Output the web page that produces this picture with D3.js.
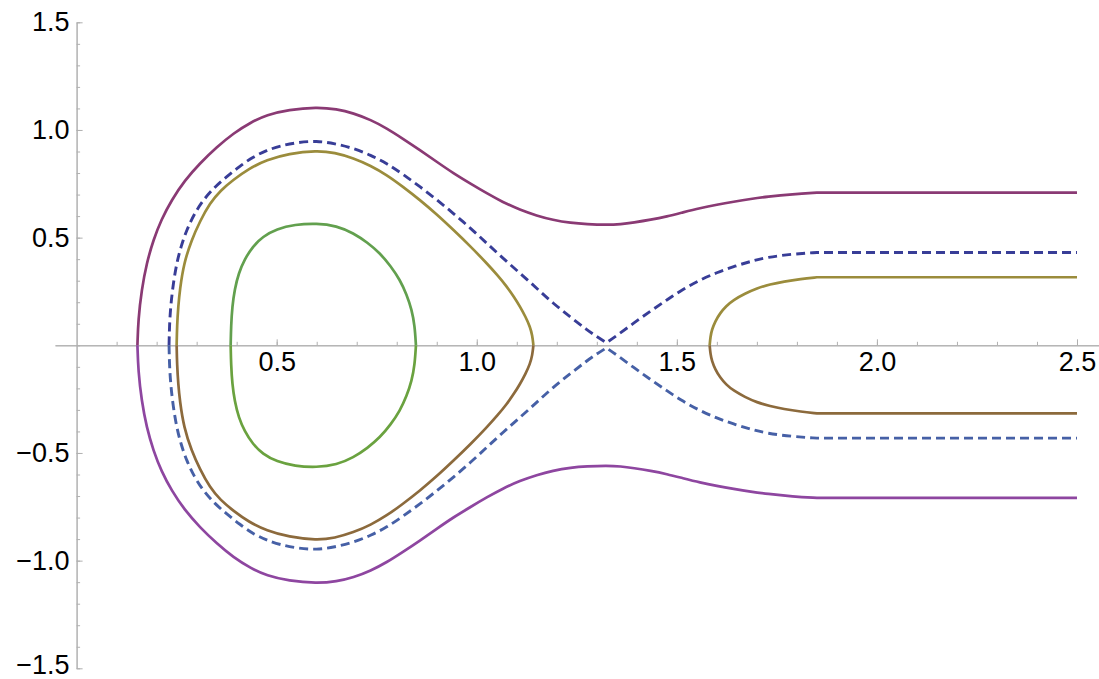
<!DOCTYPE html>
<html>
<head>
<meta charset="utf-8">
<script src="https://cdn.jsdelivr.net/npm/d3@7"></script>
<style>
  body { margin: 0; background: #fff; }
  .axis path, .axis line { stroke: #b0b0b0; }
  .axis text { font-family: "Liberation Sans", Arial, Helvetica, sans-serif; font-size: 27px; fill: #000; }
</style>
</head>
<body>
<div id="chart"></div>
<script>
// upper halves of each curve (x, y); the lower half is the mirror image
var outerCurve = [[0.152,0],[0.154,0.118],[0.1625,0.258],[0.175,0.381],[0.192,0.49],[0.212,0.585],[0.2375,0.675],
    [0.27,0.765],[0.308,0.845],[0.35,0.92],[0.392,0.985],[0.435,1.035],[0.475,1.07],[0.53,1.094],[0.6,1.106],
    [0.65,1.097],[0.692,1.078],[0.735,1.047],[0.775,1.008],[0.815,0.96],[0.858,0.907],[0.9,0.852],[0.9415,0.799],
    [0.985,0.75],[1.025,0.706],[1.065,0.665],[1.108,0.629],[1.15,0.602],[1.19,0.582],[1.235,0.568],[1.275,0.562],
    [1.325,0.559],[1.36,0.562],[1.392,0.57],[1.435,0.583],[1.475,0.598],[1.515,0.617],[1.558,0.637],[1.6,0.653],
    [1.642,0.667],[1.685,0.68],[1.725,0.69],[1.79,0.702],[1.85,0.709]];
var sepCurve = [[0.231,0],[0.232,0.09],[0.235,0.18],[0.241,0.28],[0.25,0.381],[0.261,0.46],[0.275,0.536],
    [0.294,0.61],[0.3165,0.675],[0.345,0.735],[0.375,0.783],[0.408,0.832],[0.4415,0.876],[0.475,0.905],[0.508,0.926],
    [0.55,0.942],[0.6,0.95],[0.645,0.937],[0.692,0.915],[0.735,0.883],[0.775,0.845],[0.815,0.795],[0.858,0.737],
    [0.9,0.676],[0.9415,0.613],[0.985,0.543],[1.025,0.474],[1.065,0.405],[1.108,0.335],[1.15,0.265],[1.19,0.196],
    [1.235,0.13],[1.275,0.072],[1.3,0.04],[1.324,0.012],[1.324,0.012],[1.35,0.045],[1.392,0.103],[1.435,0.16],
    [1.475,0.211],[1.515,0.26],[1.558,0.304],[1.6,0.338],[1.642,0.366],[1.685,0.39],[1.725,0.409],[1.79,0.424],
    [1.85,0.431]];
var olLeftCurve = [[0.25,0],[0.251,0.09],[0.254,0.18],[0.258,0.258],[0.268,0.381],[0.2875,0.49],[0.308,0.575],
    [0.333,0.66],[0.36,0.72],[0.3915,0.768],[0.43,0.82],[0.475,0.861],[0.53,0.89],[0.6,0.905],[0.645,0.895],
    [0.692,0.869],[0.735,0.834],[0.775,0.791],[0.815,0.737],[0.858,0.675],[0.9,0.608],[0.9415,0.536],[0.985,0.458],
    [1.025,0.381],[1.052,0.325],[1.075,0.273],[1.093,0.225],[1.108,0.18],[1.122,0.132],[1.133,0.087],[1.139,0.045],
    [1.1415,0]];
var olRightCurve = [[1.582,0],[1.584,0.04],[1.5875,0.072],[1.596,0.112],[1.608,0.149],[1.623,0.182],[1.642,0.211],
    [1.67,0.24],[1.7,0.265],[1.733,0.283],[1.767,0.296],[1.81,0.308],[1.85,0.316]];
var greenCurve = [[0.385,0],[0.386,0.09],[0.389,0.18],[0.395,0.26],[0.405,0.335],[0.42,0.4],[0.44,0.458],
    [0.465,0.505],[0.5,0.54],[0.545,0.561],[0.6,0.567],[0.65,0.555],[0.692,0.521],[0.727,0.477],[0.758,0.428],
    [0.785,0.368],[0.808,0.304],[0.825,0.235],[0.8375,0.165],[0.845,0.09],[0.848,0]];

// flat parts running out to x = 2.5
var tailEnd = 2.5;

var xMajor = [0.5, 1.0, 1.5, 2.0, 2.5];
var yMajor = [-1.5, -1.0, -0.5, 0.5, 1.0, 1.5];

var curves = [
    {pts: greenCurve,   tail: false, up: "#62a04e", down: "#6aa23f", dash: null, w: 2.7},
    {pts: olLeftCurve,  tail: false, up: "#9b8c3c", down: "#8c6a3c", dash: null, w: 2.7},
    {pts: olRightCurve, tail: true,  up: "#9b8c3c", down: "#8c6a3c", dash: null, w: 2.7},
    {pts: sepCurve,     tail: true,  up: "#383d97", down: "#4660a6", dash: "9,5", w: 2.9},
    {pts: outerCurve,   tail: true,  up: "#8a3a74", down: "#8e46a0", dash: null, w: 2.7}
];

var width = 1099, height = 679;

var svg = d3.select("#chart").append("svg")
    .attr("width", width)
    .attr("height", height);

var x = d3.scaleLinear().domain([-0.054, 2.555]).range([55, 1099]);
var y = d3.scaleLinear().domain([-1.5, 1.5]).range([668.3, 22.3]);

var fmt = d3.format(".1f");

// minor ticks
svg.append("g")
    .attr("class", "axis")
    .attr("transform", "translate(0," + y(0) + ")")
    .call(d3.axisBottom(x).tickValues(d3.range(1, 26).map(function(i) { return i / 10; }))
        .tickSizeInner(-3.5).tickSizeOuter(0).tickFormat(""));
svg.append("g")
    .attr("class", "axis")
    .attr("transform", "translate(" + x(0) + ",0)")
    .call(d3.axisLeft(y).tickValues(d3.range(-15, 16).map(function(i) { return i / 10; }))
        .tickSizeInner(-3.5).tickSizeOuter(0).tickFormat(""));

// major ticks with labels
svg.append("g")
    .attr("class", "axis")
    .attr("transform", "translate(0," + y(0) + ")")
    .call(d3.axisBottom(x).tickValues(xMajor).tickSizeInner(-6).tickSizeOuter(0).tickPadding(7).tickFormat(fmt));
var yAxisG = svg.append("g")
    .attr("class", "axis")
    .attr("transform", "translate(" + x(0) + ",0)")
    .call(d3.axisLeft(y).tickValues(yMajor).tickSizeInner(-6).tickSizeOuter(0).tickPadding(7).tickFormat(fmt));

// keep the bottom label inside the frame
yAxisG.selectAll(".tick text")
    .filter(function(d) { return d === -1.5; })
    .attr("dy", "0.18em");

var line = d3.line()
    .x(function(d) { return x(d[0]); })
    .y(function(d) { return y(d[1]); })
    .curve(d3.curveBasis);

curves.forEach(function(c) {
    [1, -1].forEach(function(s) {
        var pts = c.pts.map(function(p) { return [p[0], s * p[1]]; });
        var d = line(pts);
        if (c.tail) {
            var last = pts[pts.length - 1];
            d += "L" + x(tailEnd) + "," + y(last[1]);
        }
        svg.append("path")
            .attr("d", d)
            .attr("fill", "none")
            .attr("stroke", s > 0 ? c.up : c.down)
            .attr("stroke-width", c.w)
            .attr("stroke-dasharray", c.dash);
    });
});
</script>
</body>
</html>
